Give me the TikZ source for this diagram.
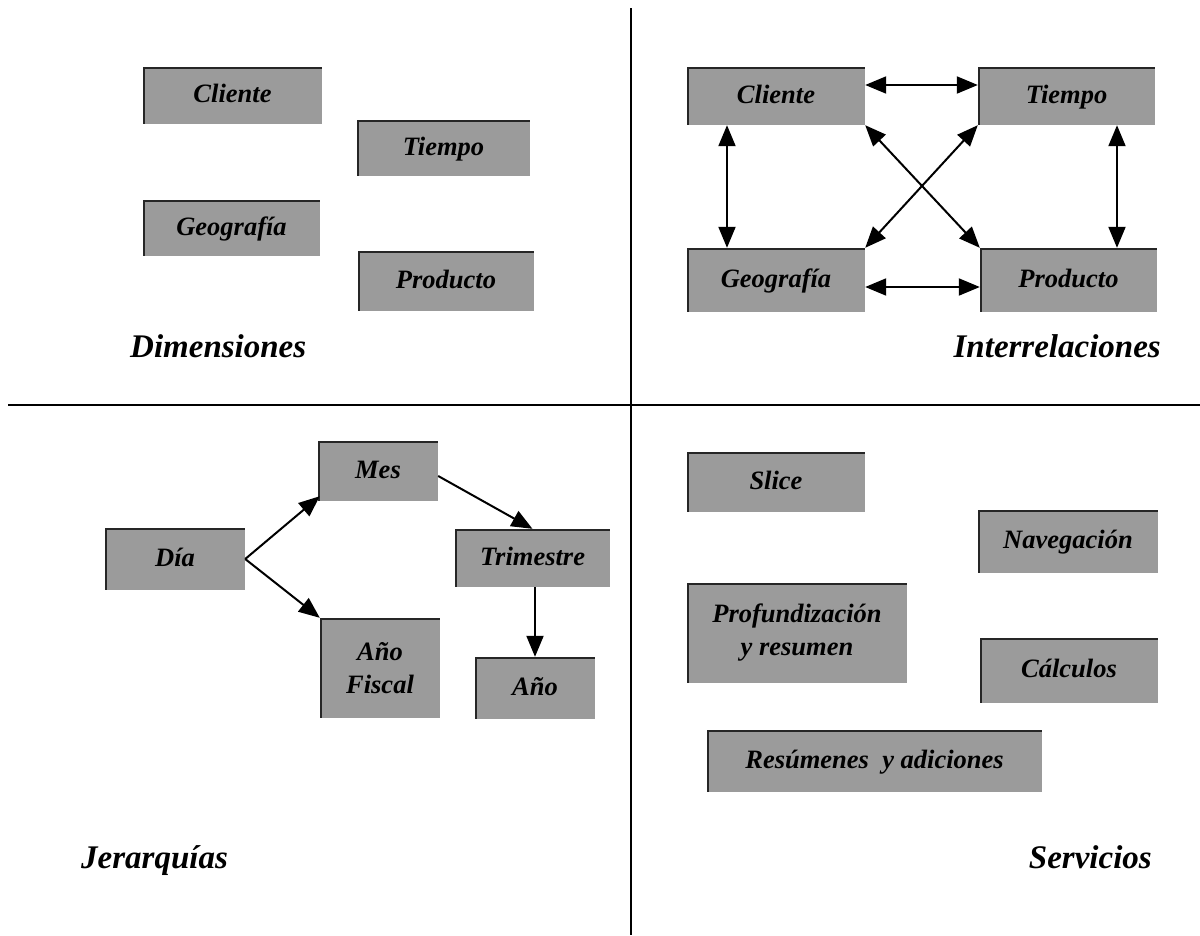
\documentclass[tikz,border=0pt]{standalone}
\usepackage{fontspec}
\setmainfont{Liberation Serif}
\usetikzlibrary{arrows.meta}

\definecolor{boxgray}{RGB}{155,155,155}

\tikzset{
  box/.style={fill=boxgray, inner sep=0pt, align=center,
    text height=18pt, text depth=4pt,
    font=\fontsize{26.5}{33}\selectfont\bfseries\itshape,
    path picture={\draw[line width=3pt, black!85]
      (path picture bounding box.south west) --
      (path picture bounding box.north west) --
      (path picture bounding box.north east);}},
  twoline/.style={text height=, text depth=},
  title/.style={font=\fontsize{33}{38}\selectfont\bfseries\itshape, inner sep=0pt},
  tip/.style={},
  link/.style={line width=2pt, -{Triangle[length=21pt,width=17pt]}},
  biglink/.style={line width=2pt, {Triangle[length=21pt,width=17pt]}-{Triangle[length=21pt,width=17pt]}},
  divider/.style={line width=1.8pt}
}

\begin{document}
\begin{tikzpicture}[x=1pt, y=-1pt]
\useasboundingbox (0,0) rectangle (1200,935);

% quadrant dividers
\coordinate (vtop) at (631,8);
\coordinate (vbot) at (631,935);
\coordinate (hl) at (8,405);
\coordinate (hr) at (1200,405);
\draw[divider] (vtop) -- (vbot);
\draw[divider] (hl) -- (hr);

% --- Dimensiones ---
\node[box, minimum width=179pt, minimum height=57pt] (c1) at (232.5,95.5) {Cliente};
\node[box, minimum width=173pt, minimum height=56pt] (t1) at (443.5,148) {Tiempo};
\node[box, minimum width=177pt, minimum height=56pt] (g1) at (231.5,228) {Geografía};
\node[box, minimum width=176pt, minimum height=60pt] (p1) at (446,281) {Producto};
\node[title, anchor=base west] (dimlbl) at (130,357) {Dimensiones};

% --- Interrelaciones ---
\node[box, minimum width=178pt, minimum height=58pt] (c2) at (776,96) {Cliente};
\node[box, minimum width=177pt, minimum height=58pt] (t2) at (1066.5,96) {Tiempo};
\node[box, minimum width=178pt, minimum height=64pt] (g2) at (776,280) {Geografía};
\node[box, minimum width=177pt, minimum height=64pt] (p2) at (1068.5,280) {Producto};
\node[title, anchor=base east] (intlbl) at (1161,357) {Interrelaciones};

\draw[biglink] ([yshift=11pt]c2.east) -- ([yshift=11pt]t2.west);
\draw[biglink] ([yshift=-7pt]g2.east) -- ([yshift=-7pt]p2.west);
\draw[biglink] ([xshift=-49pt]c2.south) -- ([xshift=-49pt]g2.north);
\draw[biglink] ([xshift=50.5pt]t2.south) -- ([xshift=48.5pt]p2.north);
\draw[biglink] (c2.south east) -- (p2.north west);
\draw[biglink] (t2.south west) -- (g2.north east);

% --- Jerarquías ---
\node[box, minimum width=120pt, minimum height=60pt] (mes) at (378,471) {Mes};
\node[box, minimum width=140pt, minimum height=62pt] (dia) at (175,559) {Día};
\node[box, minimum width=155pt, minimum height=58pt] (tri) at (532.5,558) {Trimestre};
\node[box, twoline, minimum width=120pt, minimum height=100pt] (afi) at (380,668) {Año\\Fiscal};
\node[box, minimum width=120pt, minimum height=62pt] (ano) at (535,688) {Año};
\node[title, anchor=base west] (jerlbl) at (81,868) {Jerarquías};

\draw[link] (dia.east) -- ([xshift=2pt,yshift=5pt]mes.south west);
\draw[link] (dia.east) -- (afi.north west);
\draw[link] ([yshift=-5pt]mes.east) -- (tri.north);
\draw[link] (ano.north |- tri.south) -- (ano.north);

% --- Servicios ---
\node[box, minimum width=178pt, minimum height=60pt] (slice) at (776,482) {Slice};
\node[box, minimum width=180pt, minimum height=63pt] (nav) at (1068,541.5) {Navegación};
\node[box, twoline, minimum width=220pt, minimum height=100pt] (prof) at (797,633) {Profundización\\y resumen};
\node[box, minimum width=178pt, minimum height=65pt] (calc) at (1069,670.5) {Cálculos};
\node[box, minimum width=335pt, minimum height=62pt] (res) at (874.5,761) {Resúmenes~ y adiciones};
\node[title, anchor=base east] (serlbl) at (1152,868) {Servicios};

\end{tikzpicture}
\end{document}
